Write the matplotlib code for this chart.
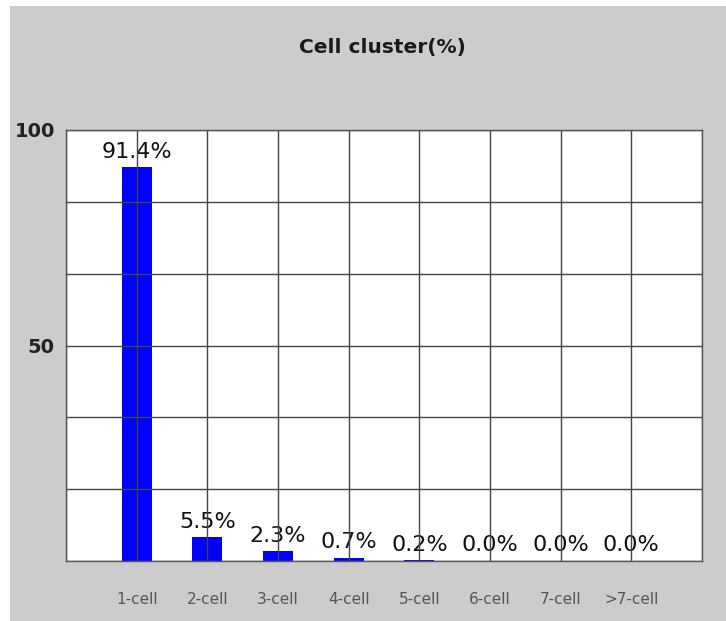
import matplotlib.pyplot as plt
import matplotlib.patches as mpatches
import numpy as np

categories = ["1-cell", "2-cell", "3-cell", "4-cell", "5-cell", "6-cell", "7-cell", ">7-cell"]
percent = [91.4, 5.5, 2.3, 0.7, 0.2, 0.0, 0.0, 0.0]
ytick_values = [50, 100]


def main():
    fig = plt.figure(figsize=(7.26, 6.21), dpi=100, facecolor="#cccccc")
    # thin white strips on the top and left edge of the screenshot
    fig.patches.append(mpatches.Rectangle((0, 0), 10 / 726, 1, transform=fig.transFigure,
                                          facecolor="white", edgecolor="none", zorder=-1))
    fig.patches.append(mpatches.Rectangle((0, 1 - 6 / 621), 1, 6 / 621, transform=fig.transFigure,
                                          facecolor="white", edgecolor="none", zorder=-1))

    ax = fig.add_axes([66 / 726, 60 / 621, 636 / 726, 431 / 621])
    ax.set_facecolor("white")

    x = np.arange(1, len(categories) + 1)
    ax.bar(x, percent, width=0.42, color="#0000ff", zorder=1)

    # grid drawn over the bars, as in the original
    for gy in np.linspace(0, 100, 7):
        ax.axhline(gy, color="#444444", lw=1.0, zorder=3)
    for gx in range(0, len(categories) + 2):
        ax.axvline(gx, color="#444444", lw=1.0, zorder=3)

    for xi, v in zip(x, percent):
        ax.annotate(f"{v:.1f}%", (xi, v), xytext=(0, 4), textcoords="offset points",
                    ha="center", va="bottom", fontsize=16, color="#111111", zorder=2)

    ax.set_xlim(0, len(categories) + 1)
    ax.set_ylim(0, 100)
    ax.set_xticks(x)
    ax.set_xticklabels(categories, fontsize=11, color="#555555")
    ax.set_yticks(ytick_values)
    ax.set_yticklabels([str(t) for t in ytick_values], fontsize=14, fontweight="bold", color="#222222")
    ax.tick_params(axis="x", length=0, pad=22)
    ax.tick_params(axis="y", length=0, pad=8)
    for s in ax.spines.values():
        s.set_color("#555555")
        s.set_linewidth(1.0)
        s.set_zorder(4)

    fig.text(382 / 726, 1 - 48 / 621, "Cell cluster(%)", ha="center", va="center",
             fontsize=14.5, fontweight="bold", color="#1a1a1a")

    fig.savefig("out.png", dpi=100, facecolor=fig.get_facecolor())


if __name__ == "__main__":
    main()
